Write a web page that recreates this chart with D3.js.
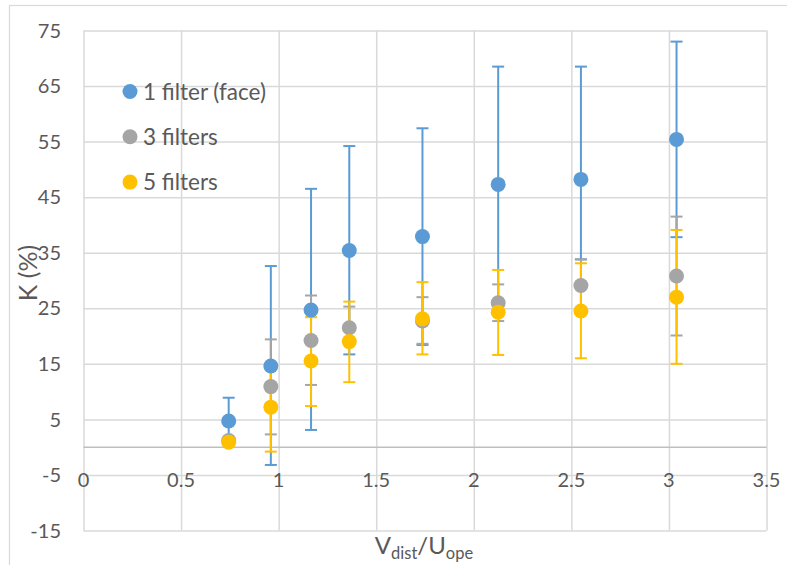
<!DOCTYPE html>
<html>
<head>
<meta charset="utf-8">
<script src="https://cdn.jsdelivr.net/npm/d3@7"></script>
<style>
  html, body { margin: 0; padding: 0; background: #fff; }
  svg text { font-family: Lato, "Open Sans", sans-serif; fill: #595959; }
</style>
</head>
<body>
<svg id="chart" width="787" height="565"></svg>
<script>
// ---- Data ----
const xValues   = [0.744, 0.96, 1.166, 1.362, 1.737, 2.125, 2.549, 3.039];

const face1     = [4.7, 14.6, 24.7, 35.4, 37.9, 47.3, 48.2, 55.4];
const face1Hi   = [8.9, 32.6, 46.5, 54.2, 57.4, 68.5, 68.5, 73.0];
const face1Lo   = [1.0, -3.2, 3.1, 16.7, 18.4, 25.5, 33.8, 37.8];

const filters3   = [1.2, 10.9, 19.2, 21.5, 22.7, 26.0, 29.1, 30.8];
const filters3Hi = [1.6, 19.4, 27.3, 25.3, 27.0, 29.3, 33.8, 41.5];
const filters3Lo = [0.8, 2.3, 11.2, 18.5, 18.6, 22.7, 24.5, 20.1];

const filters5   = [0.9, 7.2, 15.5, 19.0, 23.1, 24.3, 24.5, 27.0];
const filters5Hi = [1.4, 14.0, 23.4, 26.2, 29.7, 31.9, 33.1, 39.1];
const filters5Lo = [0.4, -0.8, 7.4, 11.7, 16.7, 16.6, 16.0, 15.0];

const seriesNames = ["1 filter (face)", "3 filters", "5 filters"];
const seriesColors = ["#5B9BD5", "#A5A5A5", "#FFC000"];

const xTicks = [0, 0.5, 1, 1.5, 2, 2.5, 3, 3.5];
const yTicks = [-15, -5, 5, 15, 25, 35, 45, 55, 65, 75];

// ---- Build series table ----
const series = [
  { name: seriesNames[0], color: seriesColors[0], v: face1, hi: face1Hi, lo: face1Lo },
  { name: seriesNames[1], color: seriesColors[1], v: filters3, hi: filters3Hi, lo: filters3Lo },
  { name: seriesNames[2], color: seriesColors[2], v: filters5, hi: filters5Hi, lo: filters5Lo }
].map(s => ({ ...s, pts: xValues.map((x, i) => ({ x, y: s.v[i], hi: s.hi[i], lo: s.lo[i] })) }));

const svg = d3.select("#chart");

// chart area border
svg.append("rect")
  .attr("x", 9.5).attr("y", 5.5).attr("width", 800).attr("height", 600)
  .attr("fill", "none").attr("stroke", "#D9D9D9").attr("stroke-width", 1.2);

const L = 83.5, R = 766.5, T = 30.5, B = 530.5;
const x = d3.scaleLinear().domain([0, 3.5]).range([L, R]);
const y = d3.scaleLinear().domain([-15, 75]).range([B, T]);

// gridlines
const gx = svg.append("g").attr("transform", `translate(0,${B})`)
  .call(d3.axisBottom(x).tickValues(xTicks).tickSize(-(B - T)).tickFormat(""));
gx.select(".domain").remove();
gx.selectAll("line").attr("stroke", "#D9D9D9").attr("stroke-width", 1.5);

const gy = svg.append("g").attr("transform", `translate(${L},0)`)
  .call(d3.axisLeft(y).tickValues(yTicks).tickSize(-(R - L)).tickFormat(""));
gy.select(".domain").remove();
gy.selectAll("line").attr("stroke", "#D9D9D9").attr("stroke-width", 1.5);

// zero line (horizontal axis)
svg.append("line")
  .attr("x1", x(0)).attr("x2", x(3.5)).attr("y1", y(0)).attr("y2", y(0))
  .attr("stroke", "#BFBFBF").attr("stroke-width", 1.5);

// y tick labels
svg.append("g").selectAll("text").data(yTicks).join("text")
  .attr("x", 61).attr("y", d => y(d)).attr("dy", "0.36em")
  .attr("text-anchor", "end").attr("font-size", 20)
  .text(d => String(d));

// x tick labels
svg.append("g").selectAll("text").data(xTicks).join("text")
  .attr("x", d => x(d)).attr("y", y(0) + 40)
  .attr("text-anchor", "middle").attr("font-size", 20)
  .text(d => String(d));

// axis titles
svg.append("text")
  .attr("transform", "translate(37,273) rotate(-90)")
  .attr("text-anchor", "middle").attr("font-size", 25)
  .text("K (%)");

const xt = svg.append("text")
  .attr("x", 424).attr("y", 554)
  .attr("text-anchor", "middle").attr("font-size", 24);
xt.append("tspan").text("V");
xt.append("tspan").attr("font-size", 16.5).attr("dy", 5).text("dist");
xt.append("tspan").attr("dy", -5).text("/U");
xt.append("tspan").attr("font-size", 16.5).attr("dy", 5).text("ope");

// error bars (all series first)
const capW = 6;
series.forEach(s => {
  const g = svg.append("g").attr("stroke", s.color).attr("stroke-width", 2).attr("fill", "none");
  s.pts.forEach(p => {
    g.append("line").attr("x1", x(p.x)).attr("x2", x(p.x)).attr("y1", y(p.lo)).attr("y2", y(p.hi));
    g.append("line").attr("x1", x(p.x) - capW).attr("x2", x(p.x) + capW).attr("y1", y(p.hi)).attr("y2", y(p.hi));
    g.append("line").attr("x1", x(p.x) - capW).attr("x2", x(p.x) + capW).attr("y1", y(p.lo)).attr("y2", y(p.lo));
  });
});

// markers
series.forEach(s => {
  svg.append("g").selectAll("circle").data(s.pts).join("circle")
    .attr("cx", d => x(d.x)).attr("cy", d => y(d.y)).attr("r", 7.5)
    .attr("fill", s.color);
});

// legend
const lg = svg.append("g");
series.forEach((s, i) => {
  const cy = 91.5 + i * 45.3;
  lg.append("circle").attr("cx", 130).attr("cy", cy).attr("r", 7.5).attr("fill", s.color);
  lg.append("text").attr("x", 143).attr("y", cy).attr("dy", "0.36em")
    .attr("font-size", 22.5).text(s.name);
});
</script>
</body>
</html>
